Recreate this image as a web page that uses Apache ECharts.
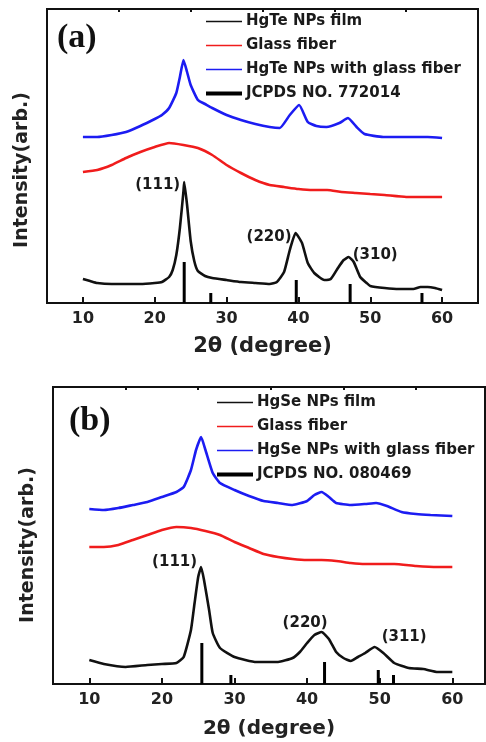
<!DOCTYPE html>
<html>
<head>
<meta charset="utf-8">
<title>XRD HgTe / HgSe</title>
<script src="https://cdn.jsdelivr.net/npm/echarts@6/dist/echarts.min.js"></script>
<style>
  body { margin: 0; background: #fff; }
  #chart { width: 486px; height: 742px; }
</style>
</head>
<body>
<div id="chart"></div>
<script>
// tick labels on the 2θ axis
const majorTicks = [10, 20, 30, 40, 50, 60]
const minorTicks = [15, 25, 35, 45, 55]

// ---- panel (a) HgTe ----
const aFilmX = [10, 11, 12, 14, 16, 18, 20, 21, 22, 22.5, 23, 23.5, 24, 24.1, 24.5, 25, 25.5, 26, 27, 28, 30, 32, 34, 36, 37, 38, 38.8, 39.6, 40.5, 41.3, 42.2, 43.6, 44.5, 45.5, 46.3, 47, 47.7, 48.6, 49.5, 50, 52, 54, 56, 57, 58, 59, 60]
const aFilmY = [24, 22, 20, 19, 19, 19, 20, 21, 26, 33, 48, 75, 112, 121, 98, 62, 42, 32, 27, 25, 23, 21, 20, 19, 21, 31, 53, 70, 60, 40, 30, 23, 24, 35, 43, 46, 41, 26, 20, 17, 15, 14, 14, 16, 16, 15, 13]
const aGlassX = [10, 12, 14, 16, 18, 20, 22, 24, 26, 28, 30, 32, 34, 36, 38, 40, 42, 44, 46, 48, 50, 52, 55, 58, 60]
const aGlassY = [131, 133, 138, 145, 151, 156, 160, 158, 155, 148, 138, 130, 123, 118, 116, 114, 113, 113, 111, 110, 109, 108, 106, 106, 106]
const aMixX = [10, 12, 14, 16, 18, 20, 21, 22, 23, 23.5, 24, 24.5, 25, 26, 27, 28, 30, 32, 34, 36, 37.4, 38.8, 40.1, 41.3, 42.5, 43.9, 45.7, 46.9, 48.1, 49.2, 51.8, 54, 56.5, 58, 60]
const aMixY = [166, 166, 168, 171, 177, 184, 188, 195, 210, 226, 243, 231, 218, 203, 199, 195, 188, 183, 179, 176, 175, 188, 198, 181, 177, 176, 180, 185, 176, 169, 166, 166, 166, 166, 165]
const aRefX = [24.1, 27.8, 39.7, 47.2, 57.2]
const aRefH = [41, 10, 23, 19, 10]
const aPeakX = [24.1, 39.6, 47]
const aPeakY = [121, 70, 46]
const aPeakText = ['(111)', '(220)', '(310)']

// ---- panel (b) HgSe ----
const bFilmX = [10, 12, 15, 18, 20, 22, 23, 24, 24.5, 25, 25.4, 25.8, 26.5, 27, 28, 30, 33, 36, 38, 39, 40, 41, 42, 43, 44, 45, 46, 47, 48, 49.3, 50.5, 52, 54, 56, 58, 60]
const bFilmY = [24, 20, 17, 19, 20, 21, 27, 54, 81, 107, 117, 104, 74, 51, 36, 27, 22, 22, 26, 32, 41, 49, 52, 45, 32, 26, 23, 27, 31, 37, 31, 21, 16, 15, 12, 12]
const bGlassX = [10, 12, 14, 16, 18, 20, 22, 24, 26, 28, 30, 32, 34, 36, 38, 40, 42, 44, 46, 48, 50, 52, 55, 58, 60]
const bGlassY = [137, 137, 139, 144, 149, 154, 157, 156, 153, 149, 142, 136, 130, 127, 125, 124, 124, 123, 121, 120, 120, 120, 118, 117, 117]
const bMixX = [10, 12, 14, 16, 18, 20, 22, 23, 24, 24.7, 25.4, 26, 27, 28, 30, 32, 34, 36, 38, 40, 41, 42, 43, 44, 46, 48, 49.5, 51, 53, 55, 57, 60]
const bMixY = [175, 174, 176, 179, 182, 187, 192, 197, 214, 234, 247, 234, 211, 201, 194, 188, 183, 181, 179, 183, 189, 192, 187, 181, 179, 180, 181, 178, 172, 170, 169, 168]
const bRefX = [25.5, 29.5, 42.4, 49.8, 51.9]
const bRefH = [41, 9, 22, 14, 9]
const bPeakX = [25.4, 42, 49.3]
const bPeakY = [117, 52, 37]
const bPeakText = ['(111)', '(220)', '(311)']

const FONT = 'DejaVu Sans'
const BLACK = '#111'
const RED = '#f01c1c'
const BLUE = '#1c1cf2'

function zip (xs, ys) {
  return xs.map((x, i) => [x, ys[i]])
}

function xAxes (grid, max, nameSize, nameGap) {
  return [{
    type: 'value',
    gridIndex: grid,
    min: 5,
    max: max,
    name: '2θ (degree)',
    nameLocation: 'middle',
    nameGap: nameGap,
    nameTextStyle: { fontFamily: FONT, fontWeight: 'bold', fontSize: nameSize, color: '#222' },
    axisLine: { show: false },
    splitLine: { show: false },
    axisTick: { inside: true, length: 6, customValues: majorTicks, lineStyle: { color: BLACK, width: 2 } },
    axisLabel: { customValues: majorTicks, margin: 8, fontFamily: FONT, fontWeight: 'bold', fontSize: 16, color: '#222' }
  }, {
    type: 'value',
    gridIndex: grid,
    min: 5,
    max: max,
    axisLine: { show: false },
    splitLine: { show: false },
    axisLabel: { show: false },
    axisTick: { inside: true, length: 3, customValues: minorTicks, lineStyle: { color: BLACK, width: 2 } }
  }]
}

function yAxis (grid, max) {
  return {
    type: 'value',
    gridIndex: grid,
    min: 0,
    max: max,
    axisLine: { show: false },
    axisTick: { show: false },
    axisLabel: { show: false },
    splitLine: { show: false }
  }
}

function curve (name, data, color, xi, yi) {
  return {
    name: name,
    type: 'line',
    xAxisIndex: xi,
    yAxisIndex: yi,
    data: data,
    smooth: 0.15,
    symbol: 'none',
    lineStyle: { color: color, width: 2.6 },
    itemStyle: { color: color },
    z: 3
  }
}

function refBars (name, xs, hs, xi, yi) {
  return {
    name: name,
    type: 'bar',
    xAxisIndex: xi,
    yAxisIndex: yi,
    data: zip(xs, hs),
    barWidth: 3,
    itemStyle: { color: '#000' },
    z: 4
  }
}

// label side and nudge for each peak label
function peakLabels (xs, ys, texts, layout, xi, yi) {
  return {
    type: 'scatter',
    xAxisIndex: xi,
    yAxisIndex: yi,
    symbolSize: 0,
    silent: true,
    itemStyle: { opacity: 1 },
    data: xs.map((x, i) => ({
      value: [x, ys[i]],
      label: {
        show: true,
        formatter: texts[i],
        position: layout[i].pos,
        distance: layout[i].dist,
        offset: layout[i].off,
        fontFamily: FONT,
        fontWeight: 'bold',
        fontSize: 15,
        color: '#1a1a1a'
      }
    })),
    z: 5
  }
}

const thinLine = 'path://M0,0H36V1.6H0Z'

function legend (left, top, names) {
  return {
    orient: 'vertical',
    left: left,
    top: top,
    padding: 0,
    itemWidth: 36,
    itemHeight: 4,
    itemGap: 9,
    symbolKeepAspect: true,
    selectedMode: false,
    textStyle: { fontFamily: FONT, fontWeight: 'bold', fontSize: 15, color: '#1a1a1a', padding: [0, 0, 0, -1] },
    data: names.map((n, i) => ({ name: n, icon: i === 3 ? 'rect' : thinLine }))
  }
}

const aNames = ['HgTe NPs film', 'Glass fiber', 'HgTe NPs with glass fiber', 'JCPDS NO. 772014']
const bNames = ['HgSe NPs film', 'Glass fiber', 'HgSe NPs with glass fiber', 'JCPDS NO. 080469']

const chart = echarts.init(document.getElementById('chart'))

chart.setOption({
  animation: false,
  grid: [
    { left: 47, top: 9, width: 431, height: 294, show: true, borderColor: BLACK, borderWidth: 2 },
    { left: 53, top: 387, width: 432, height: 297, show: true, borderColor: BLACK, borderWidth: 2 }
  ],
  xAxis: [].concat(xAxes(0, 65, 21, 33), xAxes(1, 64.5, 20, 35)),
  yAxis: [yAxis(0, 294), yAxis(1, 297)],
  legend: [legend(206, 14, aNames), legend(217, 395, bNames)],
  graphic: [
    { type: 'text', left: 57, top: 21, style: { text: '(a)', font: 'bold 34px "Liberation Serif"', fill: '#111' } },
    { type: 'text', left: 69, top: 404, style: { text: '(b)', font: 'bold 34px "Liberation Serif"', fill: '#111' } },
    { type: 'text', x: 22, y: 170, rotation: Math.PI / 2, style: { text: 'Intensity(arb.)', font: 'bold 19px "DejaVu Sans"', fill: '#222', align: 'center', verticalAlign: 'middle', textAlign: 'center', textVerticalAlign: 'middle' } },
    { type: 'text', x: 28, y: 545, rotation: Math.PI / 2, style: { text: 'Intensity(arb.)', font: 'bold 19px "DejaVu Sans"', fill: '#222', align: 'center', verticalAlign: 'middle', textAlign: 'center', textVerticalAlign: 'middle' } }
  ],
  series: [
    curve(aNames[0], zip(aFilmX, aFilmY), BLACK, 0, 0),
    curve(aNames[1], zip(aGlassX, aGlassY), RED, 0, 0),
    curve(aNames[2], zip(aMixX, aMixY), BLUE, 0, 0),
    refBars(aNames[3], aRefX, aRefH, 0, 0),
    peakLabels(aPeakX, aPeakY, aPeakText, [
      { pos: 'left', dist: 4, off: [0, 3] },
      { pos: 'left', dist: 4, off: [0, 4] },
      { pos: 'right', dist: 4, off: [0, -2] }
    ], 0, 0),

    curve(bNames[0], zip(bFilmX, bFilmY), BLACK, 2, 1),
    curve(bNames[1], zip(bGlassX, bGlassY), RED, 2, 1),
    curve(bNames[2], zip(bMixX, bMixY), BLUE, 2, 1),
    refBars(bNames[3], bRefX, bRefH, 2, 1),
    peakLabels(bPeakX, bPeakY, bPeakText, [
      { pos: 'left', dist: 4, off: [0, -5] },
      { pos: 'left', dist: 0, off: [6, -9] },
      { pos: 'right', dist: 7, off: [0, -10] }
    ], 2, 1)
  ]
})
</script>
</body>
</html>
